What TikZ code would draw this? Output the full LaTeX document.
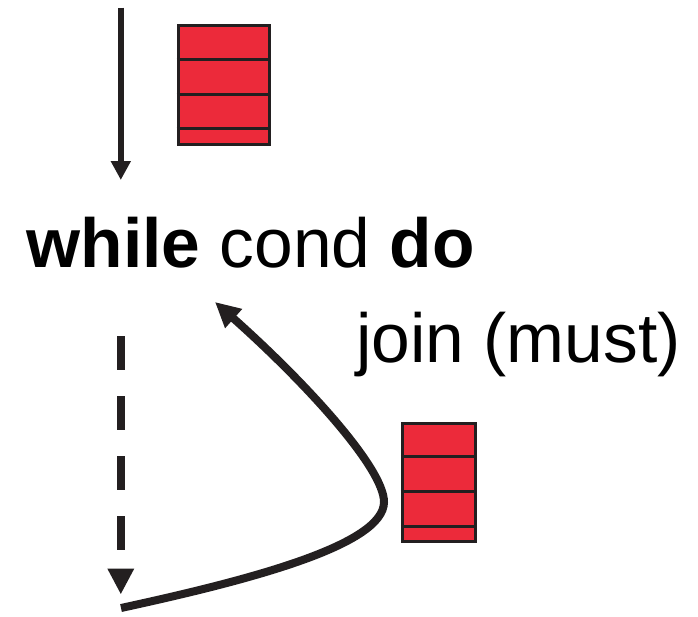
\documentclass[tikz,border=0pt]{standalone}
\usepackage{fontspec}
\setmainfont{Liberation Sans}
\usetikzlibrary{arrows.meta,calc}

\definecolor{ink}{HTML}{231F20}
\definecolor{stackred}{HTML}{EC2A3A}

\tikzset{
  stackbox/.style={draw=ink, line width=3pt, fill=stackred, inner sep=0pt},
  divider/.style={draw=ink, line width=3pt},
  codetext/.style={inner sep=0pt, anchor=base west, text=black,
    font=\fontsize{69.5}{80}\selectfont},
  flow/.style={draw=ink, line width=6.3pt,
    -{Triangle[length=19pt, width=19pt]}},
  maypath/.style={draw=ink, line width=8pt, dash pattern=on 34pt off 26pt,
    -{Triangle[length=26pt, width=25pt]}},
  joinpath/.style={draw=ink, line width=8pt,
    -{Triangle[length=25pt, width=24pt]}},
}

% a stack of three full frames and one partial frame
\newcommand{\stackdividers}[1]{%
  \foreach \f in {0.288,0.574,0.858}
    \draw[divider] ($(#1.north west)!\f!(#1.south west)$) --
                   ($(#1.north east)!\f!(#1.south east)$);}

\begin{document}
\begin{tikzpicture}[x=1pt, y=-1pt]
  \useasboundingbox (0,0) rectangle (698,616);

  % incoming control flow and the stack above the loop
  \coordinate (inTop) at (120.8,7.5);
  \coordinate (inEnd) at (120.8,180);
  \draw[flow] (inTop) -- (inEnd);

  \node[stackbox, minimum width=91pt, minimum height=118.7pt] (stackA) at (223.7,85.2) {};
  \stackdividers{stackA}

  % loop header
  \node[codetext] (loop) at (26.5,267) {\textbf{while} cond \textbf{do}};
  \node[codetext] (joinlbl) at (356,362) {join (must)};

  % loop exit (dashed) and back edge with its join
  \coordinate (exitTop) at (120.8,336);
  \coordinate (exitEnd) at (120.8,594.5);
  \draw[maypath] (exitTop) -- (exitEnd);

  \coordinate (backStart) at (121,608);
  \coordinate (backTurn) at (384,502);
  \coordinate (backEnd) at (215,302);
  \draw[joinpath] (backStart)
      .. controls (250,580) and (384,545) .. (backTurn)
      .. controls (384,468) and (305,382) .. (backEnd);

  \node[stackbox, minimum width=72.7pt, minimum height=118.6pt] (stackB) at (438.8,482.5) {};
  \stackdividers{stackB}
\end{tikzpicture}
\end{document}
